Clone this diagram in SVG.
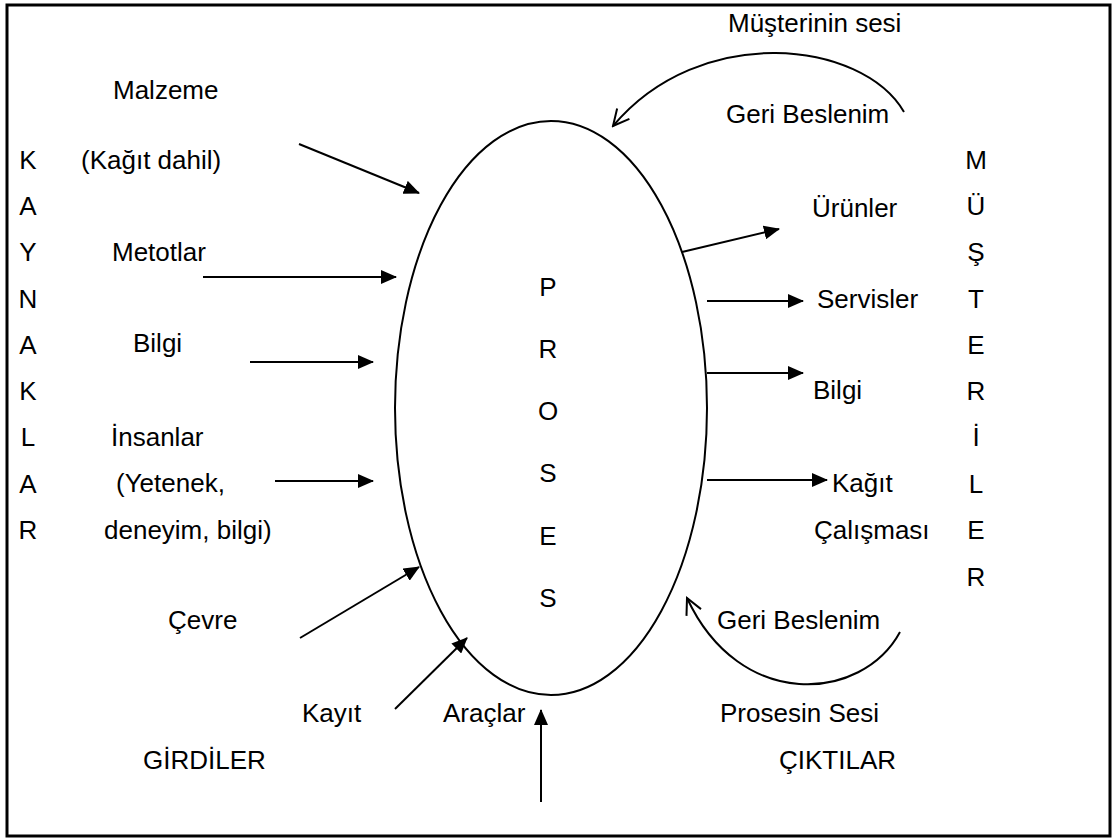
<svg xmlns="http://www.w3.org/2000/svg" width="1112" height="840" viewBox="0 0 1112 840">
<style>
text { font-family: "Liberation Sans", Arial, sans-serif; font-size: 26px; fill: #000; }
.c { text-anchor: middle; }
.ln { stroke: #000; stroke-width: 2; fill: none; }
</style>
<defs>
<marker id="ah" markerWidth="16" markerHeight="14" refX="15" refY="7" orient="auto" markerUnits="userSpaceOnUse">
<path d="M0,0 L16,7 L0,14 Z" fill="#000"/>
</marker>
<marker id="oh" markerWidth="20" markerHeight="20" refX="18" refY="10" orient="auto" markerUnits="userSpaceOnUse">
<path d="M2,2 L18,10 L2,18" fill="none" stroke="#000" stroke-width="2"/>
</marker>
</defs>
<rect x="7" y="5" width="1103" height="831" fill="#fff" stroke="#000" stroke-width="3"/>

<g id="proses">
<ellipse cx="551" cy="408" rx="156" ry="287" class="ln"/>
<text class="c" x="548" y="296">P</text>
<text class="c" x="548" y="358">R</text>
<text class="c" x="548" y="420">O</text>
<text class="c" x="548" y="482">S</text>
<text class="c" x="548" y="545">E</text>
<text class="c" x="548" y="607">S</text>
</g>

<g id="kaynaklar">
<text class="c" x="28" y="169">K</text>
<text class="c" x="28" y="215">A</text>
<text class="c" x="28" y="261">Y</text>
<text class="c" x="28" y="308">N</text>
<text class="c" x="28" y="354">A</text>
<text class="c" x="28" y="400">K</text>
<text class="c" x="28" y="446">L</text>
<text class="c" x="28" y="493">A</text>
<text class="c" x="28" y="539">R</text>
</g>

<g id="musteriler">
<text class="c" x="976" y="169">M</text>
<text class="c" x="976" y="215">Ü</text>
<text class="c" x="976" y="261">Ş</text>
<text class="c" x="976" y="308">T</text>
<text class="c" x="976" y="354">E</text>
<text class="c" x="976" y="400">R</text>
<text class="c" x="976" y="446">İ</text>
<text class="c" x="976" y="493">L</text>
<text class="c" x="976" y="539">E</text>
<text class="c" x="976" y="586">R</text>
</g>

<g id="malzeme"><text x="113" y="99">Malzeme</text><text x="81" y="169">(Kağıt dahil)</text></g>
<g id="metotlar"><text x="112" y="261">Metotlar</text></g>
<g id="bilgi-in"><text x="133" y="352">Bilgi</text></g>
<g id="insanlar"><text x="111" y="446">İnsanlar</text><text x="116" y="492">(Yetenek,</text><text x="104" y="539">deneyim, bilgi)</text></g>
<g id="cevre"><text x="168" y="629">Çevre</text></g>
<g id="kayit"><text x="302" y="722">Kayıt</text></g>
<g id="araclar"><text x="443" y="722">Araçlar</text></g>
<g id="girdiler"><text x="143" y="769">GİRDİLER</text></g>
<g id="urunler"><text x="812" y="217">Ürünler</text></g>
<g id="servisler"><text x="817" y="308">Servisler</text></g>
<g id="bilgi-out"><text x="813" y="399">Bilgi</text></g>
<g id="kagit"><text x="832" y="492">Kağıt</text><text x="814" y="539">Çalışması</text></g>
<g id="musteri-sesi"><text x="728" y="32">Müşterinin sesi</text><text x="726" y="123">Geri Beslenim</text></g>
<g id="proses-sesi"><text x="717" y="629">Geri Beslenim</text><text x="720" y="722">Prosesin Sesi</text></g>
<g id="ciktilar"><text x="779" y="769">ÇIKTILAR</text></g>

<g id="connectors" class="ln">
<line x1="299" y1="144" x2="419" y2="193" marker-end="url(#ah)"/>
<line x1="203" y1="277" x2="396" y2="277" marker-end="url(#ah)"/>
<line x1="250" y1="362" x2="373" y2="362" marker-end="url(#ah)"/>
<line x1="275" y1="481" x2="373" y2="481" marker-end="url(#ah)"/>
<line x1="300" y1="638" x2="419" y2="567" marker-end="url(#ah)"/>
<line x1="395" y1="709" x2="467" y2="638" marker-end="url(#ah)"/>
<line x1="541" y1="802" x2="541" y2="710" marker-end="url(#ah)"/>
<line x1="682" y1="252" x2="779" y2="229" marker-end="url(#ah)"/>
<line x1="707" y1="301" x2="803" y2="301" marker-end="url(#ah)"/>
<line x1="707" y1="373" x2="803" y2="373" marker-end="url(#ah)"/>
<line x1="707" y1="480" x2="827" y2="480" marker-end="url(#ah)"/>
<path d="M904,112 C862,40 700,22 613,126" marker-end="url(#oh)"/>
<path d="M900,632 C862,702 740,712 687,598" marker-end="url(#oh)"/>
</g>
</svg>
